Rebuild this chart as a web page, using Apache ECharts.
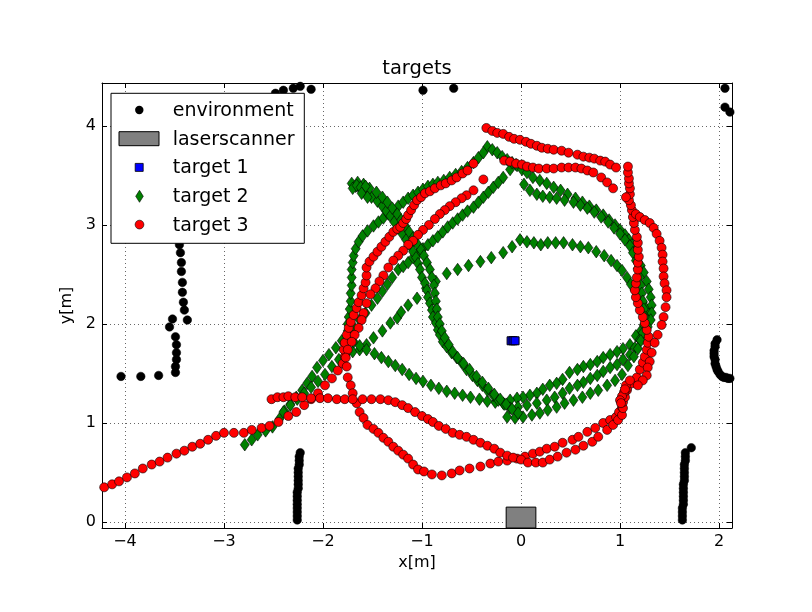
<!DOCTYPE html>
<html><head><meta charset="utf-8">
<script src="https://cdn.jsdelivr.net/npm/echarts/dist/echarts.min.js"></script>
<style>html,body{margin:0;padding:0;background:#fff}#c{width:812px;height:612px}</style>
</head><body><div id="c"></div>
<script>
const xTicks = [-4, -3, -2, -1, 0, 1, 2];
const yTicks = [0, 1, 2, 3, 4];
const xRange = [-4.232, 2.131];
const yRange = [-0.061, 4.434];
const legendNames = ['environment', 'laserscanner', 'target 1', 'target 2', 'target 3'];

const envTop = [[-2.48,4.33],[-2.40,4.36],[-2.30,4.38],[-2.23,4.40],[-2.12,4.37],[-0.99,4.36],[-0.68,4.38],[2.06,4.38],[2.06,4.19],[2.11,4.14]];
const envLeftWall = [[-3.46,3.00],[-3.46,2.90],[-3.45,2.80],[-3.44,2.72],[-3.43,2.62],[-3.43,2.53],[-3.42,2.42],[-3.42,2.32],[-3.41,2.22],[-3.40,2.14],[-3.37,2.04],[-3.52,2.05],[-3.55,1.97],[-3.49,1.87],[-3.48,1.79],[-3.48,1.71],[-3.48,1.64],[-3.49,1.57],[-3.49,1.51],[-3.66,1.48],[-3.84,1.47],[-4.04,1.47]];
const envBottomLeft = [[-2.23,0.70],[-2.24,0.66],[-2.24,0.62],[-2.24,0.58],[-2.25,0.54],[-2.25,0.50],[-2.25,0.46],[-2.25,0.42],[-2.25,0.38],[-2.25,0.34],[-2.26,0.30],[-2.26,0.26],[-2.26,0.22],[-2.26,0.18],[-2.26,0.14],[-2.26,0.10],[-2.26,0.06],[-2.26,0.02]];
const envBottomRight = [[1.72,0.75],[1.66,0.70],[1.66,0.66],[1.66,0.62],[1.65,0.58],[1.65,0.54],[1.65,0.50],[1.65,0.46],[1.65,0.42],[1.64,0.38],[1.64,0.34],[1.64,0.30],[1.64,0.26],[1.64,0.22],[1.64,0.18],[1.63,0.14],[1.63,0.10],[1.63,0.06],[1.63,0.02]];
const envRightWall = [[1.98,1.84],[1.96,1.80],[1.96,1.77],[1.95,1.73],[1.95,1.70],[1.95,1.67],[1.96,1.64],[1.96,1.60],[1.97,1.57],[1.98,1.54],[1.99,1.52],[2.01,1.49],[2.03,1.47],[2.05,1.46],[2.07,1.46],[2.09,1.45],[2.11,1.45]];

const laserscanner = [[-0.15, -0.15, 0.15, 0.15]];

const target1 = [[-0.10,1.83],[-0.08,1.83],[-0.06,1.83]];

const t2Diagonal = [[-2.79,0.78],[-2.72,0.83],[-2.66,0.88],[-2.58,0.92],[-2.51,0.96],[-2.44,1.04],[-2.39,1.12],[-2.33,1.19],[-2.27,1.26],[-2.21,1.33],[-2.16,1.40],[-2.11,1.47],[-2.06,1.56],[-2.00,1.63],[-1.94,1.69],[-1.87,1.76],[-1.81,1.83],[-1.75,1.90],[-1.69,1.97],[-1.63,2.04],[-1.57,2.11],[-1.51,2.19],[-1.45,2.26],[-1.40,2.33],[-1.35,2.40],[-1.30,2.47],[-1.24,2.55],[-1.19,2.58],[-1.14,2.62],[-1.09,2.67],[-1.04,2.72],[-0.99,2.76],[-0.94,2.80],[-0.89,2.84],[-0.84,2.88],[-0.79,2.93],[-0.74,2.98],[-0.69,3.02],[-0.64,3.06],[-0.59,3.10],[-0.54,3.14],[-0.48,3.18],[-0.43,3.23],[-0.38,3.28],[-0.33,3.33],[-0.28,3.38],[-0.23,3.43],[-0.18,3.48],[-0.11,3.56],[-0.05,3.61]];
const t2Sparse = [[-2.40,1.11],[-2.33,1.18],[-2.26,1.24],[-2.19,1.30],[-2.12,1.36],[-2.05,1.42],[-1.98,1.49],[-1.91,1.57],[-1.84,1.64],[-1.77,1.69],[-1.70,1.72],[-1.63,1.74],[-1.56,1.79],[-1.49,1.86],[-1.40,1.93],[-1.32,2.01],[-1.25,2.06],[-1.21,2.12],[-1.14,2.19],[-1.05,2.26],[-0.96,2.36],[-0.86,2.43],[-0.75,2.51],[-0.64,2.55],[-0.53,2.59],[-0.41,2.63],[-0.30,2.67],[-0.18,2.72],[-0.09,2.78],[-0.01,2.85]];
const t2Inner = [[0.06,2.83],[0.13,2.82],[0.20,2.80],[0.27,2.82],[0.35,2.82],[0.43,2.82],[0.52,2.80],[0.60,2.78],[0.68,2.77],[0.76,2.73],[0.84,2.69],[0.91,2.64],[0.97,2.59],[1.02,2.54],[1.07,2.47],[1.11,2.40],[1.15,2.34],[1.19,2.28],[1.23,2.22],[1.26,2.16],[1.29,2.10],[1.30,2.04],[1.26,1.98],[1.21,1.93],[1.16,1.88],[1.10,1.79],[1.03,1.75],[0.97,1.72],[0.90,1.69],[0.83,1.66],[0.77,1.62],[0.70,1.59],[0.63,1.57],[0.57,1.54],[0.49,1.51],[0.42,1.44],[0.36,1.40],[0.29,1.38],[0.22,1.34],[0.16,1.30],[0.09,1.28],[0.02,1.26],[-0.04,1.25],[-0.11,1.23]];
const t2ArcA = [[-0.34,3.79],[-0.29,3.76],[-0.24,3.73],[-0.19,3.69],[-0.14,3.66],[-0.09,3.63],[-0.04,3.60],[0.01,3.56],[0.06,3.53],[0.12,3.48],[0.19,3.45],[0.26,3.42],[0.33,3.38],[0.40,3.35],[0.47,3.31],[0.55,3.27],[0.62,3.23],[0.69,3.19],[0.76,3.15],[0.83,3.10],[0.89,3.05],[0.95,3.00],[1.00,2.95],[1.05,2.90],[1.09,2.85],[1.12,2.80],[1.15,2.73],[1.18,2.66],[1.21,2.59],[1.24,2.52],[1.27,2.43],[1.29,2.35],[1.31,2.27],[1.32,2.19],[1.32,2.11],[1.31,2.04],[1.28,1.97],[1.24,1.91],[1.20,1.84],[1.15,1.76],[1.10,1.69],[1.03,1.64],[0.97,1.59],[0.90,1.56],[0.83,1.52],[0.77,1.48],[0.70,1.45],[0.63,1.41],[0.57,1.38],[0.49,1.35],[0.42,1.30],[0.34,1.26],[0.26,1.23],[0.16,1.20],[0.06,1.18],[-0.03,1.16],[-0.11,1.15]];
const t2ArcB = [[0.03,3.41],[0.09,3.35],[0.16,3.31],[0.22,3.29],[0.29,3.28],[0.36,3.27],[0.44,3.25],[0.53,3.23],[0.60,3.20],[0.67,3.17],[0.74,3.13],[0.81,3.08],[0.88,3.03],[0.94,2.97],[1.00,2.91],[1.05,2.85],[1.10,2.79],[1.13,2.72],[1.16,2.64],[1.18,2.56],[1.20,2.47],[1.21,2.39],[1.22,2.31],[1.23,2.23],[1.24,2.15],[1.25,2.07],[1.24,1.99],[1.23,1.91],[1.21,1.83],[1.18,1.75],[1.14,1.67],[1.08,1.58],[1.02,1.49],[0.95,1.43],[0.87,1.38],[0.78,1.33],[0.70,1.30],[0.62,1.26],[0.53,1.23],[0.44,1.20],[0.36,1.16],[0.27,1.13],[0.19,1.10],[0.11,1.08],[0.02,1.06],[-0.06,1.05],[-0.14,1.06]];
const t2Outer = [[-0.18,1.20],[-0.26,1.21],[-0.34,1.22],[-0.42,1.24],[-0.51,1.26],[-0.59,1.28],[-0.67,1.30],[-0.75,1.32],[-0.83,1.35],[-0.91,1.38],[-0.99,1.42],[-1.06,1.45],[-1.13,1.49],[-1.20,1.54],[-1.27,1.58],[-1.34,1.62],[-1.41,1.66],[-1.48,1.70],[-1.56,1.74],[-1.63,1.78],[-1.69,1.82],[-1.73,1.87],[-1.75,1.93],[-1.75,2.00],[-1.74,2.07],[-1.73,2.15],[-1.72,2.23],[-1.72,2.31],[-1.71,2.39],[-1.71,2.47],[-1.71,2.55],[-1.70,2.62],[-1.69,2.69],[-1.67,2.76],[-1.64,2.83],[-1.60,2.89],[-1.55,2.94],[-1.49,2.99],[-1.44,3.03],[-1.39,3.07],[-1.34,3.11],[-1.29,3.15],[-1.24,3.19],[-1.19,3.23],[-1.14,3.27],[-1.09,3.30],[-1.04,3.33],[-0.99,3.36],[-0.94,3.39],[-0.89,3.41],[-0.84,3.43],[-0.78,3.45],[-0.72,3.48],[-0.66,3.51],[-0.60,3.54],[-0.54,3.58],[-0.48,3.63],[-0.43,3.68],[-0.38,3.73]];
const t2CrossA = [[-1.67,3.39],[-1.62,3.36],[-1.57,3.32],[-1.51,3.28],[-1.45,3.24],[-1.40,3.19],[-1.36,3.14],[-1.32,3.09],[-1.28,3.03],[-1.24,2.97],[-1.20,2.91],[-1.16,2.85],[-1.12,2.79],[-1.09,2.73],[-1.06,2.67],[-1.04,2.61],[-1.02,2.55],[-1.00,2.47],[-0.97,2.41],[-0.95,2.34],[-0.94,2.27],[-0.92,2.21],[-0.90,2.14],[-0.89,2.07],[-0.86,2.01],[-0.84,1.94],[-0.82,1.89],[-0.79,1.82],[-0.75,1.77],[-0.70,1.71],[-0.65,1.66],[-0.60,1.61],[-0.55,1.54],[-0.49,1.48],[-0.44,1.43],[-0.39,1.38],[-0.34,1.33],[-0.28,1.28],[-0.23,1.23],[-0.17,1.19]];
const t2CrossB = [[-1.71,3.42],[-1.65,3.43],[-1.59,3.41],[-1.53,3.37],[-1.46,3.33],[-1.40,3.28],[-1.35,3.23],[-1.30,3.17],[-1.25,3.11],[-1.21,3.05],[-1.17,2.99],[-1.13,2.93],[-1.09,2.87],[-1.05,2.81],[-1.01,2.75],[-0.98,2.69],[-0.95,2.62],[-0.92,2.55],[-0.90,2.47],[-0.88,2.39],[-0.87,2.31],[-0.86,2.23],[-0.85,2.15],[-0.84,2.07],[-0.82,2.00],[-0.80,1.93],[-0.77,1.86],[-0.73,1.79],[-0.69,1.72],[-0.64,1.66],[-0.58,1.60],[-0.52,1.54],[-0.45,1.47],[-0.39,1.41],[-0.33,1.35],[-0.27,1.29],[-0.21,1.24],[-0.15,1.19],[-0.09,1.14],[-0.03,1.10]];
const t2Kink = [[-1.70,3.37],[-1.66,3.40],[-1.62,3.38],[-1.57,3.39],[-1.61,3.32],[-1.55,3.28]];

const t3Left = [[-4.21,0.35],[-4.13,0.38],[-4.06,0.41],[-3.98,0.45],[-3.90,0.49],[-3.82,0.54],[-3.73,0.58],[-3.65,0.61],[-3.57,0.65],[-3.48,0.69],[-3.40,0.72],[-3.32,0.76],[-3.24,0.79],[-3.16,0.83],[-3.08,0.87],[-3.00,0.90],[-2.90,0.90],[-2.80,0.90],[-2.72,0.93],[-2.62,0.95],[-2.54,0.97],[-2.45,1.01],[-2.35,1.07],[-2.27,1.11],[-2.19,1.18],[-2.12,1.24],[-2.05,1.30],[-1.98,1.38],[-1.91,1.45],[-1.85,1.53],[-1.80,1.60],[-1.78,1.67],[-1.79,1.74],[-1.78,1.81],[-1.76,1.89],[-1.74,1.96],[-1.72,2.02],[-1.69,2.09],[-1.66,2.16],[-1.64,2.22],[-1.61,2.29],[-1.59,2.36],[-1.57,2.42],[-1.56,2.49],[-1.56,2.57],[-1.53,2.63],[-1.49,2.68],[-1.45,2.73],[-1.41,2.78],[-1.37,2.83],[-1.33,2.88],[-1.29,2.93],[-1.25,2.96],[-1.22,2.98],[-1.19,3.02],[-1.16,3.06],[-1.14,3.10],[-1.11,3.15],[-1.08,3.20],[-1.05,3.25],[-1.01,3.28],[-0.97,3.32],[-0.92,3.34],[-0.87,3.37],[-0.81,3.40],[-0.76,3.42],[-0.70,3.45],[-0.65,3.48],[-0.59,3.52],[-0.54,3.55],[-0.48,3.62]];
const t3Single = [[-0.38,3.46]];
const t3Lower = [[-0.48,3.35],[-0.55,3.30],[-0.60,3.27],[-0.66,3.23],[-0.72,3.19],[-0.77,3.15],[-0.82,3.11],[-0.87,3.06],[-0.93,3.00],[-0.99,2.95],[-1.04,2.90],[-1.09,2.84],[-1.14,2.80],[-1.19,2.74],[-1.24,2.69],[-1.29,2.64],[-1.34,2.57],[-1.39,2.49],[-1.43,2.43],[-1.47,2.36],[-1.52,2.30],[-1.56,2.21],[-1.59,2.11],[-1.61,2.04],[-1.64,1.96],[-1.68,1.89],[-1.71,1.82],[-1.75,1.74],[-1.77,1.66],[-1.76,1.57],[-1.75,1.46],[-1.72,1.38],[-1.70,1.30],[-1.66,1.20],[-1.63,1.11],[-1.59,1.05],[-1.55,0.98],[-1.49,0.94],[-1.44,0.90],[-1.39,0.85],[-1.34,0.81],[-1.29,0.76],[-1.24,0.72],[-1.19,0.68],[-1.14,0.64],[-1.09,0.58],[-1.04,0.53],[-0.98,0.51],[-0.90,0.48],[-0.80,0.47],[-0.70,0.49],[-0.62,0.52],[-0.52,0.54],[-0.41,0.56],[-0.31,0.59],[-0.23,0.61],[-0.14,0.62],[-0.04,0.64],[0.04,0.66],[0.12,0.69],[0.19,0.71],[0.26,0.74],[0.34,0.76],[0.42,0.80],[0.52,0.83],[0.58,0.86],[0.67,0.91],[0.75,0.95],[0.83,1.00],[0.90,1.03],[0.96,1.06],[0.99,1.11],[1.02,1.16]];
const t3Hook = [[-2.52,1.24],[-2.46,1.26],[-2.40,1.26],[-2.35,1.27],[-2.28,1.26],[-2.21,1.26],[-2.12,1.25],[-2.03,1.25],[-1.95,1.25],[-1.86,1.24],[-1.78,1.24],[-1.70,1.24],[-1.60,1.24],[-1.51,1.24],[-1.42,1.24],[-1.34,1.23],[-1.27,1.21],[-1.20,1.18],[-1.14,1.15],[-1.07,1.11],[-1.00,1.07],[-0.94,1.04],[-0.89,1.01],[-0.83,0.97],[-0.76,0.94],[-0.69,0.90],[-0.62,0.88],[-0.55,0.86],[-0.48,0.83],[-0.41,0.80],[-0.34,0.77],[-0.27,0.74],[-0.21,0.70],[-0.14,0.67],[-0.08,0.65],[0.00,0.63],[0.07,0.60],[0.15,0.60],[0.22,0.60],[0.29,0.63],[0.37,0.66],[0.46,0.70],[0.55,0.73],[0.63,0.77],[0.72,0.81],[0.78,0.86],[0.87,0.93],[0.93,0.98],[0.98,1.03],[1.02,1.08],[1.03,1.15],[1.03,1.21],[1.05,1.26],[1.07,1.33]];
const t3RightInner = [[1.07,1.35],[1.12,1.40],[1.17,1.46],[1.20,1.54],[1.23,1.61],[1.25,1.67],[1.27,1.74],[1.28,1.81],[1.29,1.87],[1.27,1.94],[1.25,2.01],[1.23,2.07],[1.20,2.14],[1.18,2.21],[1.16,2.27],[1.15,2.34],[1.16,2.41],[1.17,2.47],[1.18,2.55],[1.18,2.62],[1.19,2.68],[1.18,2.75],[1.18,2.82],[1.17,2.88],[1.15,2.95],[1.14,3.02],[1.13,3.08],[1.12,3.15],[1.11,3.20],[1.09,3.25],[1.10,3.31],[1.10,3.37],[1.09,3.42],[1.09,3.47],[1.08,3.53],[1.08,3.59],[1.06,3.28]];
const t3RightOuter = [[1.16,3.11],[1.20,3.08],[1.25,3.05],[1.30,3.02],[1.34,2.97],[1.37,2.91],[1.40,2.84],[1.42,2.77],[1.43,2.70],[1.43,2.63],[1.44,2.56],[1.44,2.48],[1.45,2.41],[1.47,2.34],[1.47,2.27],[1.46,2.17],[1.44,2.07],[1.42,1.99],[1.38,1.89],[1.35,1.81],[1.32,1.71],[1.30,1.62],[1.28,1.56],[1.27,1.48],[1.23,1.43],[1.18,1.38]];
const t3Cluster = [[1.04,1.31],[1.02,1.27],[1.00,1.23],[1.06,1.38],[1.10,1.43],[1.01,1.20],[1.05,1.34]];
const t3TopUpper = [[-0.35,3.98],[-0.29,3.95],[-0.24,3.93],[-0.18,3.92],[-0.12,3.89],[-0.07,3.87],[-0.01,3.86],[0.05,3.84],[0.10,3.82],[0.16,3.80],[0.21,3.78],[0.27,3.77],[0.33,3.76],[0.41,3.75],[0.48,3.73],[0.57,3.71],[0.63,3.69],[0.69,3.68],[0.74,3.67],[0.80,3.65],[0.85,3.64],[0.90,3.61],[0.96,3.58]];
const t3TopLower = [[-0.17,3.65],[-0.11,3.64],[-0.05,3.62],[0.01,3.61],[0.06,3.59],[0.12,3.58],[0.18,3.57],[0.26,3.57],[0.33,3.57],[0.41,3.58],[0.48,3.58],[0.55,3.58],[0.61,3.57],[0.67,3.55],[0.73,3.53],[0.81,3.48],[0.87,3.43],[0.93,3.37]];

const environment = [].concat(envTop, envLeftWall, envBottomLeft, envBottomRight, envRightWall);
const target2 = [].concat(t2Diagonal, t2Sparse, t2Inner, t2ArcA, t2ArcB, t2Outer, t2CrossA, t2CrossB, t2Kink);
const target3 = [].concat(t3Left, t3Single, t3Lower, t3Hook, t3RightInner, t3RightOuter, t3Cluster, t3TopUpper, t3TopLower);

const FONT = 'DejaVu Sans';
function tickFormatter(ticks) {
  return function (v) {
    const r = Math.round(v);
    if (Math.abs(v - r) > 1e-6 || ticks.indexOf(r) < 0) return '';
    return (r < 0 ? '\u2212' : '') + Math.abs(r);
  };
}
const axisLine = { show: true, onZero: false, lineStyle: { color: '#000', width: 1 } };
const axisTick = { show: true, inside: true, length: 5, lineStyle: { color: '#000', width: 1 } };
const gridLine = { show: true, lineStyle: { color: '#000', width: 0.6, type: [1, 3] } };
const labelStyle = { color: '#000', fontSize: 16, fontFamily: FONT };

const chart = echarts.init(document.getElementById('c'), null, { renderer: 'canvas' });
chart.setOption({
  animation: false,
  backgroundColor: '#fff',
  title: { text: 'targets', left: 417, top: 59, textAlign: 'center', padding: 0,
    textStyle: { fontSize: 19.5, fontWeight: 'normal', color: '#000', fontFamily: FONT } },
  grid: { left: 102, right: 80, top: 83, bottom: 84, show: false },
  xAxis: [
    { type: 'value', position: 'bottom', min: xRange[0], max: xRange[1], minInterval: 1, maxInterval: 1,
      axisLine, axisTick, splitLine: gridLine,
      axisLabel: Object.assign({ formatter: tickFormatter(xTicks), margin: 6, showMinLabel: false, showMaxLabel: false }, labelStyle),
      name: 'x[m]', nameLocation: 'middle', nameGap: 20, nameTextStyle: labelStyle },
    { type: 'value', position: 'top', min: xRange[0], max: xRange[1], minInterval: 1, maxInterval: 1,
      axisLine, axisTick, splitLine: { show: false }, axisLabel: { show: false } }
  ],
  yAxis: [
    { type: 'value', position: 'left', min: yRange[0], max: yRange[1], minInterval: 1, maxInterval: 1,
      axisLine, axisTick, splitLine: gridLine,
      axisLabel: Object.assign({ formatter: tickFormatter(yTicks), margin: 6, showMinLabel: false, showMaxLabel: false }, labelStyle),
      name: 'y[m]', nameLocation: 'middle', nameGap: 23, nameTextStyle: labelStyle },
    { type: 'value', position: 'right', min: yRange[0], max: yRange[1], minInterval: 1, maxInterval: 1,
      axisLine, axisTick, splitLine: { show: false }, axisLabel: { show: false } }
  ],
  series: [
    { name: legendNames[0], type: 'scatter', data: environment, symbol: 'circle', symbolSize: 8.5,
      itemStyle: { color: '#000', borderColor: '#000', borderWidth: 0.5, opacity: 1 }, silent: true, clip: true },
    { name: legendNames[1], type: 'custom', data: laserscanner, encode: { x: [0, 2], y: [1, 3] }, silent: true,
      renderItem: function (params, api) {
        const p0 = api.coord([api.value(0), api.value(1)]);
        const p1 = api.coord([api.value(2), api.value(3)]);
        const r = { x: Math.min(p0[0], p1[0]), y: Math.min(p0[1], p1[1]), width: Math.abs(p1[0] - p0[0]), height: Math.abs(p1[1] - p0[1]) };
        const cs = params.coordSys;
        const c = echarts.graphic.clipRectByRect(r, { x: cs.x, y: cs.y, width: cs.width, height: cs.height });
        return c && { type: 'rect', shape: c, style: { fill: '#808080', stroke: '#000', lineWidth: 1 } };
      } },
    { name: legendNames[2], type: 'scatter', data: target1, symbol: 'rect', symbolSize: 8,
      itemStyle: { color: '#0000ff', borderColor: '#000', borderWidth: 1, opacity: 1 }, silent: true },
    { name: legendNames[3], type: 'scatter', data: target2, symbol: 'diamond', symbolSize: [9, 12.5],
      itemStyle: { color: '#008000', borderColor: '#000', borderWidth: 0.6, opacity: 1 }, silent: true, clip: true },
    { name: legendNames[4], type: 'scatter', data: target3, symbol: 'circle', symbolSize: 9,
      itemStyle: { color: '#ff0000', borderColor: '#000', borderWidth: 0.6, opacity: 1 }, silent: true, clip: true }
  ],
  graphic: { elements: [
    { type: 'rect', z: 100, shape: { x: 111, y: 93.3, width: 193.3, height: 150 }, style: { fill: '#fff', stroke: '#000', lineWidth: 1 } },
    { type: 'circle', z: 101, shape: { cx: 139.3, cy: 110, r: 4.2 }, style: { fill: '#000' } },
    { type: 'rect', z: 101, shape: { x: 119, y: 131.7, width: 40, height: 14 }, style: { fill: '#808080', stroke: '#000', lineWidth: 1 } },
    { type: 'rect', z: 101, shape: { x: 135.2, y: 163.4, width: 8, height: 8 }, style: { fill: '#0000ff', stroke: '#000', lineWidth: 0.8 } },
    { type: 'polygon', z: 101, shape: { points: [[139.5, 190.3], [143.3, 196.3], [139.5, 202.3], [135.7, 196.3]] }, style: { fill: '#008000', stroke: '#000', lineWidth: 0.6 } },
    { type: 'circle', z: 101, shape: { cx: 139.5, cy: 224.6, r: 4.4 }, style: { fill: '#ff0000', stroke: '#000', lineWidth: 0.6 } },
    { type: 'text', z: 101, style: { text: legendNames[0], x: 172.7, y: 111, fontSize: 19, fontFamily: FONT, fill: '#000', verticalAlign: 'middle' } },
    { type: 'text', z: 101, style: { text: legendNames[1], x: 172.7, y: 139.8, fontSize: 19, fontFamily: FONT, fill: '#000', verticalAlign: 'middle' } },
    { type: 'text', z: 101, style: { text: legendNames[2], x: 172.7, y: 168.5, fontSize: 19, fontFamily: FONT, fill: '#000', verticalAlign: 'middle' } },
    { type: 'text', z: 101, style: { text: legendNames[3], x: 172.7, y: 197.2, fontSize: 19, fontFamily: FONT, fill: '#000', verticalAlign: 'middle' } },
    { type: 'text', z: 101, style: { text: legendNames[4], x: 172.7, y: 225.8, fontSize: 19, fontFamily: FONT, fill: '#000', verticalAlign: 'middle' } }
  ] }
});
</script>
</body></html>
